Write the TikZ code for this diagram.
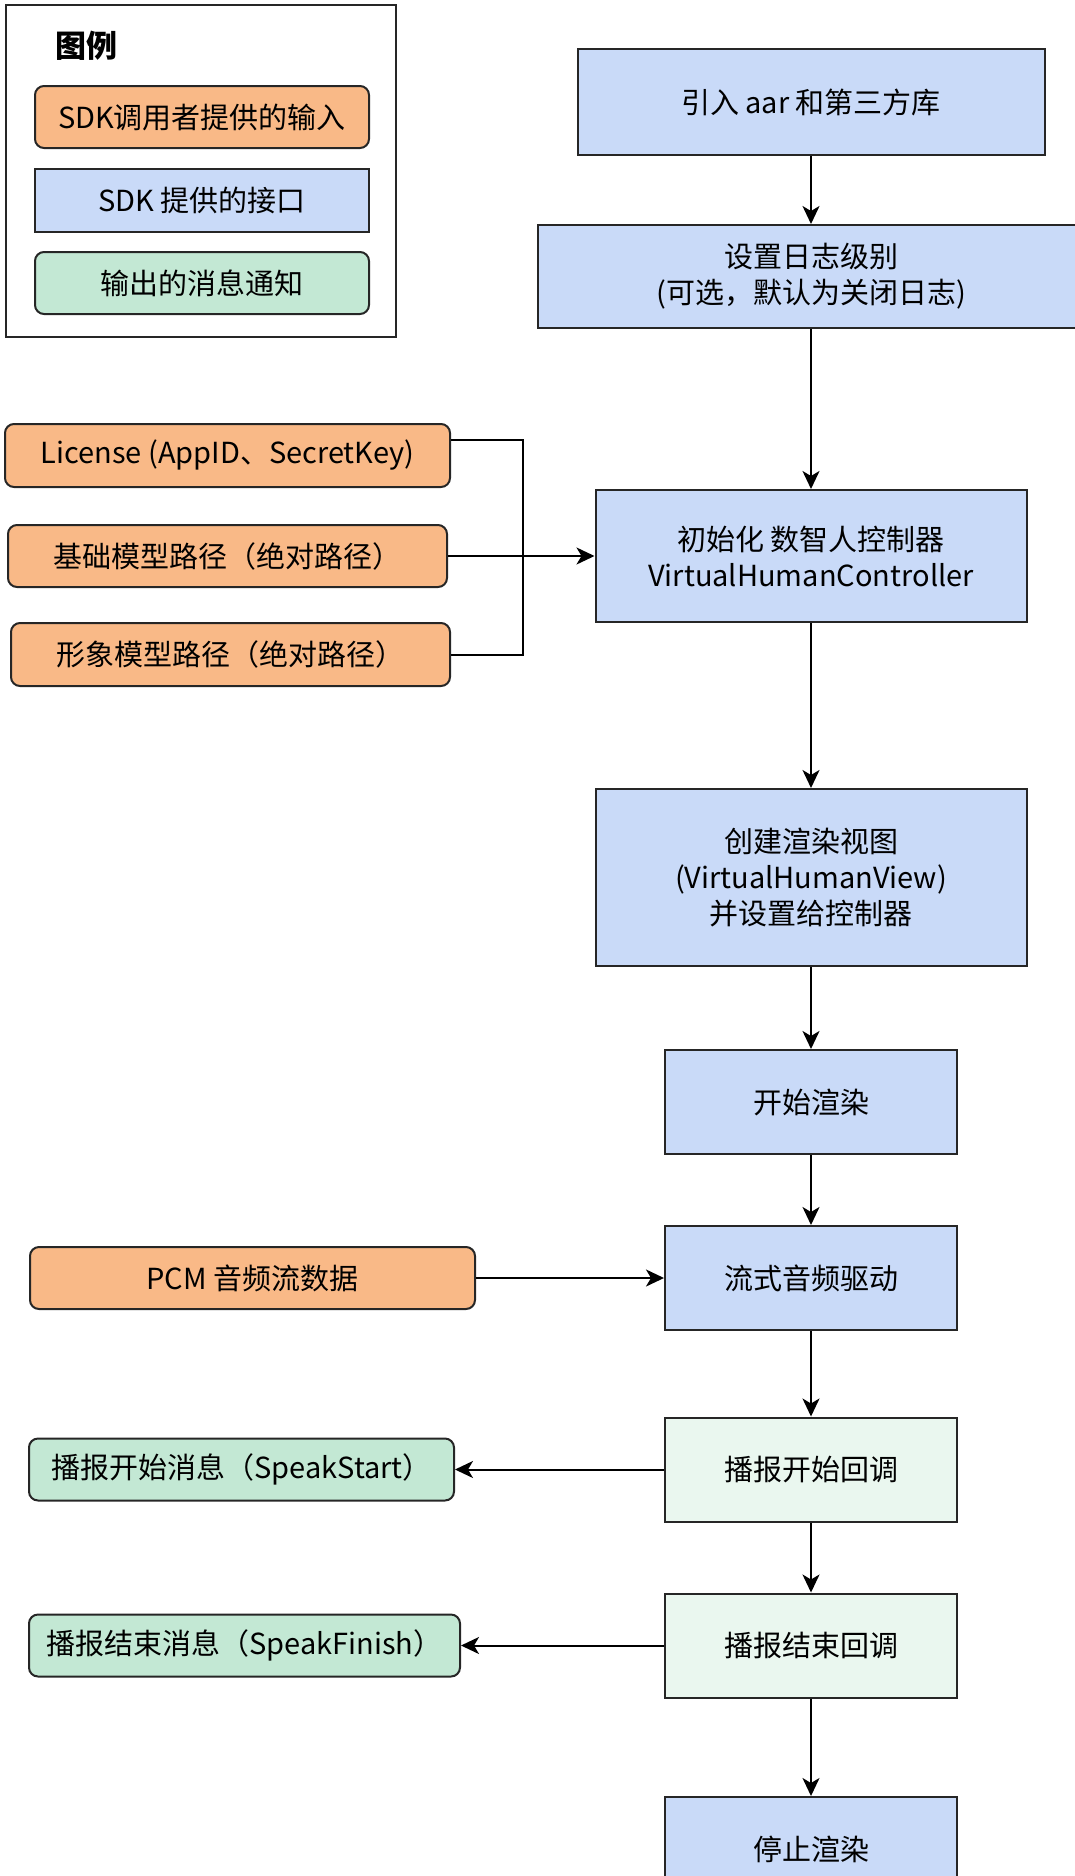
\documentclass[tikz,border=0pt]{standalone}
\usepackage{fontspec}
\setmainfont{Noto Sans CJK SC}
\usetikzlibrary{arrows.meta}
\definecolor{apiblue}{HTML}{C9DAF8}
\definecolor{inputorange}{HTML}{F9B987}
\definecolor{outputgreen}{HTML}{C3E8D4}
\definecolor{callbackgreen}{HTML}{EAF7EF}
\definecolor{linegray}{HTML}{262626}
\begin{document}
\begin{tikzpicture}[x=1pt, y=-1pt,
      every node/.style={font=\fontsize{29}{36}\selectfont, align=center, inner sep=0pt, line width=2pt, draw=linegray},
      api/.style={fill=apiblue},
      callback/.style={fill=callbackgreen},
      input/.style={fill=inputorange, rounded corners=9pt},
      output/.style={fill=outputgreen, rounded corners=9pt},
      flow/.style={line width=2pt, -{Stealth[length=18pt, width=17pt, inset=5pt]}}]
      \useasboundingbox (0, 0) rectangle (1075, 1876);
      \clip (0, 0) rectangle (1075, 1876);
      % legend
      \draw [line width=2pt, linegray] (6, 5) rectangle (396, 337);
      \node (legend) [draw=none, font=\bfseries\fontsize{31}{36}\selectfont] at (86, 46) {图例};
      \node (keyin) [input, minimum width=334, minimum height=62] at (202, 117) {SDK调用者提供的输入};
      \node (keyapi) [api, minimum width=334, minimum height=63] at (202, 200.5) {SDK 提供的接口};
      \node (keyout) [output, minimum width=334, minimum height=62] at (202, 283) {输出的消息通知};
      % main flow
      \node (aar) [api, minimum width=467, minimum height=105] at (811, 102) {引入 aar 和第三方库};
      \node (log) [api, minimum width=546, minimum height=103] at (811, 276.5) {设置日志级别\\(可选，默认为关闭日志)};
      \node (init) [api, minimum width=431, minimum height=132] at (811, 556) {初始化 数智人控制器\\VirtualHumanController};
      \node (view) [api, minimum width=431, minimum height=177] at (811, 877.5) {创建渲染视图\\(VirtualHumanView)\\并设置给控制器};
      \node (start) [api, minimum width=292, minimum height=104] at (811, 1102) {开始渲染};
      \node (drive) [api, minimum width=292, minimum height=104] at (811, 1278) {流式音频驱动};
      \node (onstart) [callback, minimum width=292, minimum height=104] at (811, 1469.5) {播报开始回调};
      \node (onfinish) [callback, minimum width=292, minimum height=104] at (811, 1645.5) {播报结束回调};
      \node (stop) [api, minimum width=292, minimum height=104] at (811, 1849) {停止渲染};
      % inputs and messages
      \node (lic) [input, minimum width=445, minimum height=63] at (227.5, 455.5) {License (AppID、SecretKey)};
      \node (base) [input, minimum width=439, minimum height=62] at (227.5, 556) {基础模型路径（绝对路径）};
      \node (figure) [input, minimum width=439, minimum height=63] at (230.5, 654.5) {形象模型路径（绝对路径）};
      \node (pcm) [input, minimum width=445, minimum height=62] at (252.5, 1278) {PCM 音频流数据};
      \node (msgstart) [output, minimum width=425, minimum height=62] at (241.5, 1469.5) {播报开始消息（SpeakStart）};
      \node (msgfinish) [output, minimum width=431, minimum height=62] at (244.5, 1645.5) {播报结束消息（SpeakFinish）};
      \coordinate (bus) at (523, 556);
      \draw [line width=2pt] ([yshift=15.5pt]lic.east) -| (bus) |- (figure.east);
      \draw [flow] (aar) edge (log)
                   (log) edge (init)
                   (init) edge (view)
                   (view) edge (start)
                   (start) edge (drive)
                   (drive) edge (onstart)
                   (onstart) edge (onfinish)
                   (onfinish) edge (stop)
                   (base) edge (init)
                   (pcm) edge (drive)
                   (onstart) edge (msgstart)
                   (onfinish) edge (msgfinish);
\end{tikzpicture}
\end{document}
